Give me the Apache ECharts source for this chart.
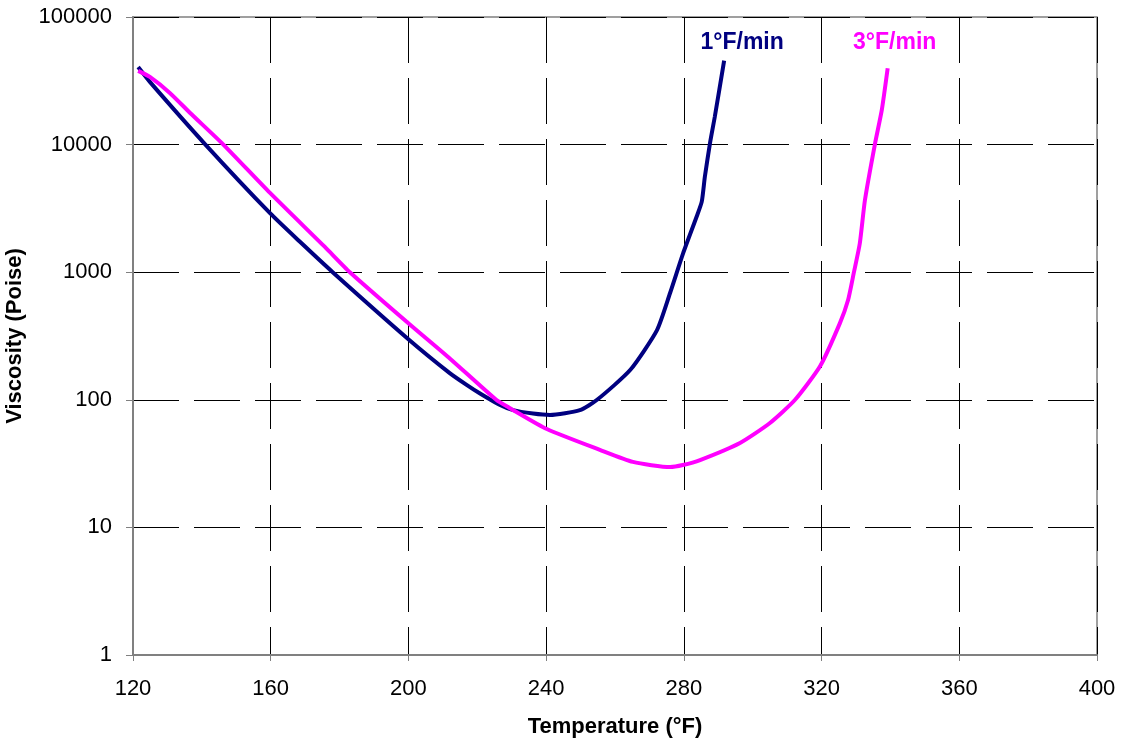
<!DOCTYPE html>
<html>
<head>
<meta charset="utf-8">
<script src="https://cdn.jsdelivr.net/npm/echarts@6/dist/echarts.min.js"></script>
<style>html,body{margin:0;padding:0;background:#fff}#c{width:1125px;height:742px}</style>
</head>
<body>
<div id="c"></div>
<script>
const xTicks = [120, 160, 200, 240, 280, 320, 360, 400];
const yTicks = [1, 10, 100, 1000, 10000, 100000];

const blueName = '1\u00B0F/min';
const blueT = [121.5, 124.9, 140.9, 159.8, 168.5, 178.0, 199.9, 212.0, 216.9, 220.8, 226.6, 230.4, 236.2, 241.1, 249.8, 254.8, 264.4, 272.2, 276.0, 279.8, 283.7, 285.2, 286.1, 287.6, 289.0, 291.7];
const blueV = [40500, 31000, 10100, 2900, 1730, 1000, 300, 162, 131, 112, 91, 83, 78, 76, 83, 100, 171, 352, 687, 1410, 2720, 3570, 5600, 10300, 16600, 45500];

const pinkName = '3\u00B0F/min';
const pinkT = [121.5, 124.9, 130.7, 136.6, 146.1, 159.8, 175.8, 183.0, 199.9, 212.1, 225.5, 229.5, 240.2, 255.6, 265.2, 276.0, 279.7, 284.7, 296.3, 305.0, 312.3, 319.6, 325.3, 327.7, 329.4, 331.1, 332.6, 335.5, 337.5, 339.2];
const pinkV = [37800, 33900, 25400, 17700, 10100, 4180, 1570, 1000, 400, 210, 100, 86, 59, 40.5, 32.6, 29.7, 30.8, 33.7, 45.9, 65.8, 100, 184, 397, 605, 1000, 1680, 3680, 10100, 18700, 39600];

const chart = echarts.init(document.getElementById('c'), null, {renderer: 'canvas'});
const FONT = '"Liberation Sans", Arial, sans-serif';
const gridLine = {show: true, lineStyle: {color: '#000', width: 1, type: [46, 15]}};

function mk(name, T, V, color, off) {
  return {
    name: name, type: 'line', data: T.map((t, i) => [t, V[i]]),
    showSymbol: false, symbol: 'none', smooth: 0.2,
    lineStyle: {color: color, width: 4},
    endLabel: {show: true, formatter: name, color: color, fontFamily: FONT, fontWeight: 'bold', fontSize: 23,
      align: 'center', verticalAlign: 'bottom', distance: 0, offset: off},
    z: 5
  };
}

chart.setOption({
  animation: false,
  backgroundColor: '#fff',
  grid: {left: 133, right: 28, top: 17, bottom: 87, show: true, borderColor: '#808080', borderWidth: 1.5,
    containLabel: false, outerBoundsMode: 'none'},
  xAxis: {
    type: 'value', min: xTicks[0], max: xTicks[xTicks.length - 1], interval: 40,
    name: 'Temperature (\u00B0F)', nameLocation: 'middle', nameGap: 61,
    nameTextStyle: {fontFamily: FONT, fontWeight: 'bold', fontSize: 22, color: '#000'},
    axisLine: {show: true, lineStyle: {color: '#808080', width: 2}},
    axisTick: {show: true, length: 6, lineStyle: {color: '#808080', width: 1}},
    axisLabel: {fontFamily: FONT, fontSize: 22, color: '#000', margin: 23},
    splitLine: gridLine
  },
  yAxis: {
    type: 'log', logBase: 10, min: yTicks[0], max: yTicks[yTicks.length - 1],
    name: 'Viscosity (Poise)', nameLocation: 'middle', nameGap: 107,
    nameTextStyle: {fontFamily: FONT, fontWeight: 'bold', fontSize: 22, color: '#000'},
    axisLine: {show: true, lineStyle: {color: '#808080', width: 2}},
    axisTick: {show: true, length: 7, lineStyle: {color: '#808080', width: 1}},
    axisLabel: {fontFamily: FONT, fontSize: 22, color: '#000', margin: 21,
      formatter: v => String(Math.round(v))},
    splitLine: gridLine
  },
  series: [
    mk(blueName, blueT, blueV, '#000080', [18, -6]),
    mk(pinkName, pinkT, pinkV, '#FF00FF', [7, -14])
  ]
});
</script>
</body>
</html>
